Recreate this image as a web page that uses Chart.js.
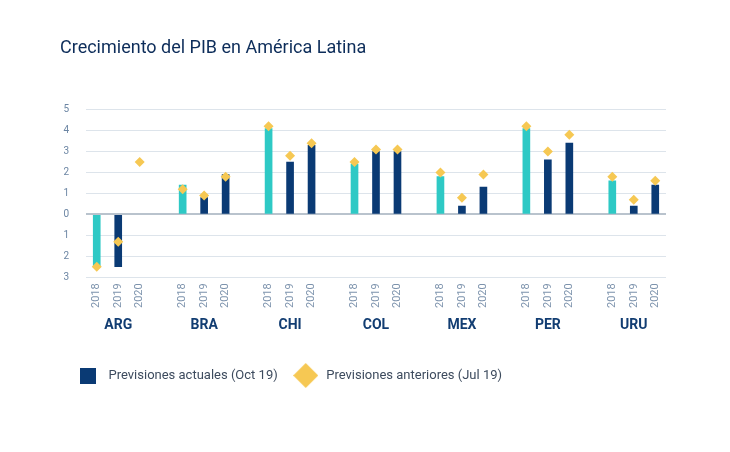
<!DOCTYPE html>
<html>
<head>
<meta charset="utf-8">
<script src="https://cdn.jsdelivr.net/npm/chart.js@4.4.1/dist/chart.umd.min.js"></script>
<style>
  html, body { margin: 0; padding: 0; background: #ffffff; }
  #box { width: 730px; height: 452px; }
</style>
</head>
<body>
<div id="box"><canvas id="grafico"></canvas></div>
<script>
// datos
var paises = ['ARG', 'BRA', 'CHI', 'COL', 'MEX', 'PER', 'URU'];
var anios = ['2018', '2019', '2020'];

// previsiones actuales (Oct 19), por país: 2018, 2019, 2020
var actuales = [
  [-2.5, -2.5, null],
  [1.4, 0.8, 1.9],
  [4.1, 2.5, 3.3],
  [2.4, 3.0, 3.0],
  [1.8, 0.4, 1.3],
  [4.1, 2.6, 3.4],
  [1.6, 0.4, 1.4]
];

// previsiones anteriores (Jul 19)
var anteriores = [
  [-2.5, -1.3, 2.5],
  [1.2, 0.9, 1.8],
  [4.2, 2.8, 3.4],
  [2.5, 3.1, 3.1],
  [2.0, 0.8, 1.9],
  [4.2, 3.0, 3.8],
  [1.8, 0.7, 1.6]
];

var ticksY = [-3, -2, -1, 0, 1, 2, 3, 4, 5];

// colores
var TEAL = '#2ec9c5';
var NAVY = '#0a3a74';
var AMARILLO = '#f6c853';

// armar las categorías con un hueco entre países
var etiquetasAnio = [];
var etiquetasPais = [];
var serieActual = [];
var serieAnterior = [];
for (var i = 0; i < paises.length; i++) {
  for (var j = 0; j < anios.length; j++) {
    etiquetasAnio.push(anios[j]);
    etiquetasPais.push(j == 1 ? paises[i] : '');
    serieActual.push(actuales[i][j]);
    serieAnterior.push(anteriores[i][j]);
  }
  if (i < paises.length - 1) {
    etiquetasAnio.push('');
    etiquetasPais.push('');
    serieActual.push(null);
    serieAnterior.push(null);
  }
}

// marcadores de la leyenda
function marcaCuadrado() {
  var c = document.createElement('canvas');
  c.width = 16; c.height = 16;
  var g = c.getContext('2d');
  g.fillStyle = NAVY;
  g.fillRect(0, 0, 16, 16);
  return c;
}
function marcaRombo() {
  var c = document.createElement('canvas');
  c.width = 25; c.height = 25;
  var g = c.getContext('2d');
  g.fillStyle = AMARILLO;
  g.beginPath();
  g.moveTo(12.5, 0); g.lineTo(25, 12.5); g.lineTo(12.5, 25); g.lineTo(0, 12.5);
  g.closePath();
  g.fill();
  return c;
}
var marcas = [marcaCuadrado(), marcaRombo()];

var ctx = document.getElementById('grafico');
var chartGraph = new Chart(ctx, {
  data: {
    labels: etiquetasAnio,
    datasets: [
      {
        type: 'bar',
        label: 'Previsiones actuales (Oct 19)',
        data: serieActual,
        order: 2,
        barThickness: 7,
        backgroundColor: function (c) {
          return etiquetasAnio[c.dataIndex] == '2018' ? TEAL : NAVY;
        }
      },
      {
        type: 'line',
        label: 'Previsiones anteriores (Jul 19)',
        data: serieAnterior,
        order: 1,
        showLine: false,
        pointStyle: 'rectRot',
        pointRadius: 5,
        pointHoverRadius: 5,
        pointBorderWidth: 0,
        pointBackgroundColor: AMARILLO,
        backgroundColor: AMARILLO,
        borderColor: AMARILLO
      }
    ]
  },
  options: {
    responsive: true,
    maintainAspectRatio: false,
    animation: false,
    layout: { padding: { top: 20, left: 60, right: 64, bottom: 60 } },
    plugins: {
      tooltip: { enabled: false },
      title: {
        display: true,
        text: 'Crecimiento del PIB en América Latina',
        align: 'start',
        color: '#0d2d5a',
        font: { family: 'Roboto', size: 18, weight: 'normal' },
        padding: { top: 18, bottom: 50 }
      },
      legend: {
        position: 'bottom',
        align: 'start',
        labels: {
          usePointStyle: true,
          pointStyleWidth: 28,
          padding: 14,
          color: '#3d4b5e',
          font: { family: 'Roboto', size: 13 },
          sort: function (a, b) { return a.datasetIndex - b.datasetIndex; },
          generateLabels: function (chart) {
            var items = Chart.defaults.plugins.legend.labels.generateLabels(chart);
            items.forEach(function (it) { it.pointStyle = marcas[it.datasetIndex]; });
            return items;
          }
        }
      }
    },
    scales: {
      x: {
        type: 'category',
        grid: { display: false, drawTicks: false },
        border: { display: false },
        ticks: {
          autoSkip: false,
          minRotation: 90,
          maxRotation: 90,
          padding: 6,
          color: '#7d93ad',
          font: { family: 'Roboto', size: 11 }
        }
      },
      x2: {
        type: 'category',
        axis: 'x',
        position: 'bottom',
        offset: true,
        labels: etiquetasPais,
        grid: { display: false, drawTicks: false },
        border: { display: false },
        ticks: {
          autoSkip: false,
          maxRotation: 0,
          padding: 3,
          color: '#123d72',
          font: { family: 'Roboto', size: 14, weight: 'bold' }
        },
        afterFit: function (s) { s.height = 41; }
      },
      y: {
        min: ticksY[0],
        max: ticksY[ticksY.length - 1],
        afterBuildTicks: function (s) {
          s.ticks = ticksY.map(function (v) { return { value: v }; });
        },
        afterFit: function (s) { s.width = 26; },
        border: { display: false },
        grid: {
          drawTicks: false,
          color: function (c) { return c.tick && c.tick.value === 0 ? '#b9c3cd' : '#dde4eb'; },
          lineWidth: function (c) { return c.tick && c.tick.value === 0 ? 2 : 1; }
        },
        ticks: {
          padding: 17,
          color: '#6b85a3',
          font: { family: 'Roboto', size: 10 },
          callback: function (v) { return Math.abs(v); }
        }
      }
    }
  }
});
</script>
</body>
</html>
